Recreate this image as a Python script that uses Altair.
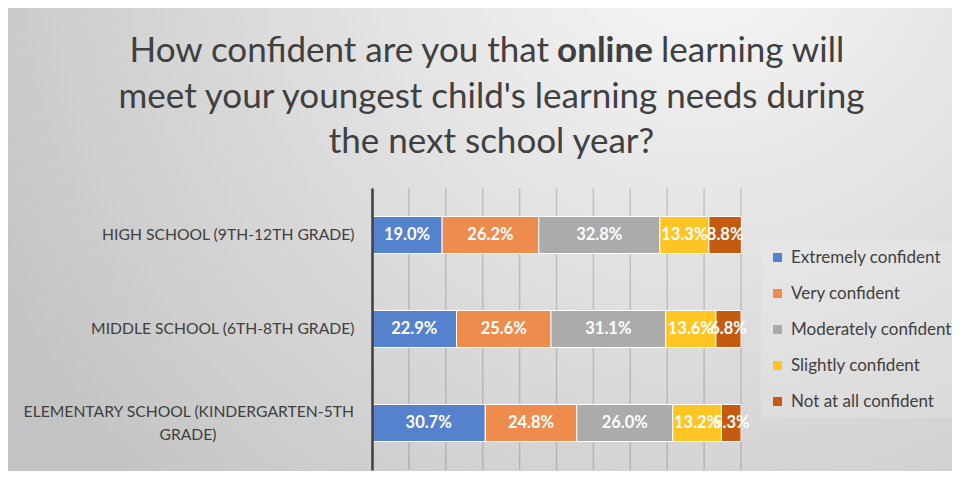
import altair as alt
import pandas as pd

categories = [
    "HIGH SCHOOL (9TH-12TH GRADE)",
    "MIDDLE SCHOOL (6TH-8TH GRADE)",
    "ELEMENTARY SCHOOL (KINDERGARTEN-5TH GRADE)",
]
series = [
    "Extremely confident",
    "Very confident",
    "Moderately confident",
    "Slightly confident",
    "Not at all confident",
]
extremely = [19.0, 22.9, 30.7]
very = [26.2, 25.6, 24.8]
moderately = [32.8, 31.1, 26.0]
slightly = [13.3, 13.6, 13.2]
not_at_all = [8.8, 6.8, 5.3]
colors = ["#5582CC", "#EE8C4E", "#ABABAB", "#FFC522", "#C55A11"]
x_ticks = [0, 10, 20, 30, 40, 50, 60, 70, 80, 90, 100]

title_a = "How confident are you that"
title_bold = "online"
title_c = "learning will"
title_line2 = "meet your youngest child's learning needs during"
title_line3 = "the next school year?"
es_first_line = "ELEMENTARY SCHOOL (KINDERGARTEN-5TH"
es_second_line = "GRADE)"

rows = []
for si, (name, vals) in enumerate(zip(series, [extremely, very, moderately, slightly, not_at_all])):
    for cat, v in zip(categories, vals):
        rows.append({"category": cat, "series": name, "order": si, "value": v})
df = pd.DataFrame(rows)

W, H = 369, 282
PL, PT, PR, PB = 364, 180, 211, 1
FONT = "Lato"
TXT = "#404040"
LBL = 15.7

x_scale = alt.Scale(domain=[0, 100], nice=False, zero=True)
y_scale = alt.Scale(paddingInner=0.606, paddingOuter=0.303)

bg = alt.Chart(pd.DataFrame({"a": [0]})).mark_rect(
    fill=alt.RadialGradient(
        gradient="radial",
        x1=0.73, y1=0.16, r1=0.0,
        x2=0.73, y2=0.16, r2=0.85,
        stops=[
            alt.GradientStop(offset=0, color="#f9f9f9"),
            alt.GradientStop(offset=1, color="#c4c4c4"),
        ],
    )
).encode(
    x=alt.value(-PL), x2=alt.value(W + PR), y=alt.value(-PT), y2=alt.value(H + PB)
)

grid = alt.Chart(pd.DataFrame({"tick": x_ticks})).mark_rule(
    color="#000000", opacity=0.15, strokeWidth=1.5
).encode(
    x=alt.X("tick:Q", scale=x_scale, axis=None),
    y=alt.value(0),
    y2=alt.value(H),
)

base = alt.Chart(df).transform_stack(
    stack="value", groupby=["category"], sort=[alt.SortField("order")], as_=["v0", "v1"]
).transform_calculate(
    mid="(datum.v0 + datum.v1) / 2",
    label="format(datum.value, '.1f') + '%'",
)

label_expr = f"datum.value == '{categories[2]}' ? '' : datum.value"

y_enc = alt.Y(
    "category:N",
    sort=categories,
    scale=y_scale,
    axis=alt.Axis(
        title=None, domain=True, domainColor="#404040", domainWidth=2.5, ticks=False,
        labelFont=FONT, labelFontSize=LBL, labelColor=TXT, labelPadding=18,
        labelLimit=500, labelExpr=label_expr, grid=False, zindex=1,
    ),
)

bars = base.mark_bar(stroke="white", strokeWidth=1).encode(
    y=y_enc,
    x=alt.X("v0:Q", scale=x_scale, axis=None),
    x2="v1:Q",
    color=alt.Color(
        "series:N",
        scale=alt.Scale(domain=series, range=colors),
        legend=alt.Legend(
            title=None, orient="none", legendX=389, legendY=53,
            labelFont=FONT, labelFontSize=17, labelColor=TXT,
            symbolType="square", symbolSize=81, symbolStrokeWidth=0,
            rowPadding=18, labelOffset=5, padding=8,
            fillColor="rgba(255,255,255,0.15)", labelLimit=300,
        ),
    ),
    order=alt.Order("order:Q"),
)

labels = base.mark_text(font=FONT, fontWeight="bold", fontSize=16.5, color="white").encode(
    x=alt.X("mid:Q", scale=x_scale, axis=None),
    y=alt.Y("category:N", sort=categories, scale=y_scale),
    text="label:N",
)

es_df = pd.DataFrame({"category": [categories[2]], "l1": [es_first_line], "l2": [es_second_line]})
es_line1 = alt.Chart(es_df).mark_text(
    font=FONT, fontSize=LBL, color=TXT, align="right", dy=-11
).encode(
    y=alt.Y("category:N", sort=categories, scale=y_scale),
    x=alt.value(-18),
    text="l1:N",
)
es_line2 = alt.Chart(es_df).mark_text(
    font=FONT, fontSize=LBL, color=TXT, align="center", dy=12
).encode(
    y=alt.Y("category:N", sort=categories, scale=y_scale),
    x=alt.value(-184),
    text="l2:N",
)


def title_text(txt, px, py, align, weight="normal"):
    return alt.Chart(pd.DataFrame({"t": [txt]})).mark_text(
        font=FONT, fontSize=35, color=TXT, align=align, baseline="alphabetic",
        fontWeight=weight,
    ).encode(text="t:N", x=alt.value(px), y=alt.value(py))


t1a = title_text(title_a, 177, -126, "right")
t1b = title_text(title_bold, 233, -126, "center", "bold")
t1c = title_text(title_c, 289, -126, "left")
t2 = title_text(title_line2, 119.5, -80, "center")
t3 = title_text(title_line3, 119.5, -35, "center")

chart = alt.layer(bg, grid, bars, labels, es_line1, es_line2, t1a, t1b, t1c, t2, t3).properties(
    width=W, height=H,
    padding={"left": PL, "top": PT, "right": PR, "bottom": PB},
    autosize=alt.AutoSizeParams(type="none"),
).configure(background="#d4d4d4").configure_view(stroke=None)

chart.save("out.html", embed_options={"renderer": "svg", "actions": False})
